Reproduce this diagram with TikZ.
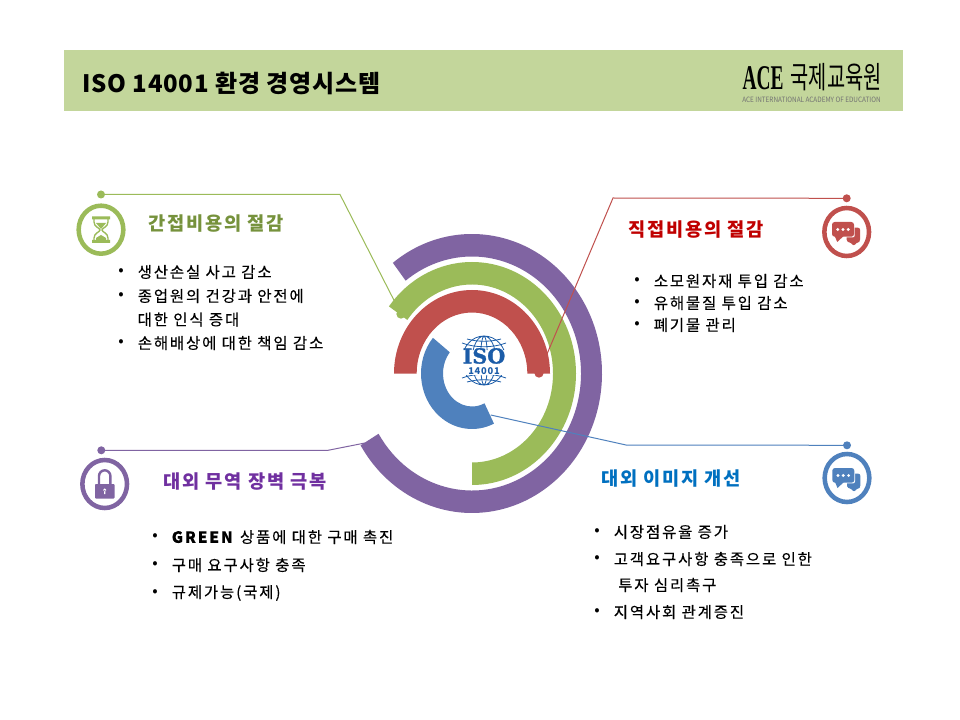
\documentclass[tikz,border=0pt]{standalone}
\usepackage{fontspec}
\setmainfont{Noto Sans CJK KR}
\newfontfamily\bodyfont[LetterSpace=12,FakeBold=0.25]{Noto Sans CJK KR}
\newfontfamily\headfont[LetterSpace=10]{Noto Sans CJK KR}
\newfontfamily\titlefont[LetterSpace=3.3]{Noto Sans CJK KR}
\newfontfamily\isofont[FakeBold=1.2]{DejaVu Serif}
\newfontfamily\acefont{Liberation Serif}
\usetikzlibrary{calc,shapes.geometric}
\definecolor{headbg}{HTML}{C3D69B}
\definecolor{ringgreen}{HTML}{9BBB59}
\definecolor{ringred}{HTML}{C0504D}
\definecolor{ringpurple}{HTML}{8064A2}
\definecolor{ringblue}{HTML}{4F81BD}
\definecolor{titlegreen}{HTML}{76923C}
\definecolor{titlered}{HTML}{C00000}
\definecolor{titlepurple}{HTML}{7030A0}
\definecolor{titleblue}{HTML}{0070C0}
\definecolor{isoblue}{HTML}{1B5CA8}
\tikzset{
  bodytext/.style={anchor=west,inner sep=0pt,font=\bodyfont\fontsize{11.6pt}{12pt}\selectfont,text=black},
  headtext/.style={inner sep=0pt,font=\headfont\fontsize{14pt}{15pt}\selectfont\bfseries},
  dot/.style={circle,fill=#1,inner sep=0pt,minimum size=6pt},
  badge/.style={ellipse,draw=#1,line width=3.4pt,inner sep=0pt,minimum width=33.5pt,minimum height=36pt},
  leader/.style={draw=#1,line width=0.75pt},
}
% one ring piece: colour, start, end, outer rx, outer ry, inner rx, inner ry
\newcommand{\ringpart}[7]{
\fill[#1] (472,373.5) ++(#2:#4 and #5) arc[start angle=#2,end angle=#3,x radius=#4,y radius=#5]
  -- ($(472,373.5)+(#3:#6 and #7)$) arc[start angle=#3,end angle=#2,x radius=#6,y radius=#7] -- cycle;
}
\newcommand{\bitem}[4]{
\node[inner sep=0pt,font=\fontsize{12pt}{12pt}\selectfont] (#1b) at (#2,#3) {•};
\node[bodytext] (#1) at ([xshift=12.4pt]#1b.center) {#4};
}
\newcommand{\chaticon}[3]{
\begin{scope}[shift={(#2,#3)}]
\fill[#1,rounded corners=1.5pt] (0,-4.3) -- (13.3,-4.3) -- (13.3,9.7) -- (11,9.7) -- (7,14) -- (3,9.7) -- (0,9.7) -- cycle;
\fill[white,rounded corners=1.5pt] (-15.2,-10.5) rectangle (8,5.4);
\fill[#1,rounded corners=2pt] (-14.7,-10) rectangle (7.3,4.7);
\fill[#1] (-12,4) -- (-9.5,10) -- (-3,4) -- cycle;
\fill[white] (-9,-2.5) circle(1.6) (-3.7,-2.5) circle(1.6) (1.6,-2.5) circle(1.6);
\end{scope}
}
\begin{document}
\begin{tikzpicture}[x=0.75pt,y=-0.75pt]
\useasboundingbox (0,0) rectangle (960,720);
\fill[white] (0,0) rectangle (960,720);
% header
\fill[headbg] (64,50) rectangle (903,111);
\node[anchor=west,inner sep=0pt,font=\titlefont\fontsize{18pt}{19pt}\selectfont\bfseries] (title) at (82,83) {ISO 14001 환경 경영시스템};
\node[inner sep=0pt,font=\acefont\fontsize{26pt}{26pt}\selectfont\bfseries] (ace) at (763,78.5) {\scalebox{0.56}[1]{ACE}};
\node[anchor=west,inner sep=0pt,font=\fontsize{19pt}{20pt}\selectfont] (acekr) at (790.5,77) {\scalebox{0.78}[1.2]{국제교육원}};
\node[inner sep=0pt,text=black!55,font=\fontsize{5pt}{5pt}\selectfont] (aceen) at (811.5,99.5) {\scalebox{0.96}[1.1]{ACE INTERNATIONAL ACADEMY OF EDUCATION}};
% anchor points of the lines
\coordinate (gbend) at (340,194.5);
\coordinate (gend) at (401,314);
\coordinate (rbend) at (613,198);
\coordinate (rend) at (539,373);
\coordinate (bbend) at (626,445);
\coordinate (bend) at (490.7,415);
\coordinate (pbend) at (328,450.3);
\coordinate (pend) at (365,443);
% outer ring
\ringpart{ringpurple}{-127.5}{149}{130}{139.5}{109}{117}
% green
\node[dot=ringgreen] (gdot) at (101,194.5) {};
\draw[leader=ringgreen] (gdot.center) -- (gbend) -- (gend);
\node[dot=ringgreen,minimum size=7pt] (gtip) at (gend) {};
\ringpart{ringgreen}{90}{-143}{104}{111.5}{81}{89}
% red
\node[dot=ringred] (rdot) at (846.7,198.3) {};
\draw[leader=ringred] (rdot.center) -- (rbend) -- (rend);
\node[dot=ringred,minimum size=7pt] (rtip) at (rend) {};
\ringpart{ringred}{180}{360}{78}{83.5}{55.3}{61}
% blue
\ringpart{ringblue}{220}{64.5}{51}{55.5}{29}{33}
\node[dot=ringblue] (bdot) at (847,445.3) {};
\draw[leader=ringblue] (bdot.center) -- (bbend) -- (bend);
% purple line
\node[dot=ringpurple] (pdot) at (101.3,450.3) {};
\draw[leader=ringpurple] (pdot.center) -- (pbend) -- (pend);
% logo
\begin{scope}
\clip (455,335) rectangle (513,350) (455,375) rectangle (513,387);
\draw[isoblue,line width=0.6pt] (484,360.5) ellipse (22 and 24.5) ellipse (12 and 24.5) ellipse (3.5 and 24.5);
\draw[isoblue,line width=0.6pt] (462,343) .. controls (475,348) and (493,348) .. (506,343);
\draw[isoblue,line width=0.6pt] (467,339) .. controls (478,342) and (490,342) .. (501,339);
\draw[isoblue,line width=0.6pt] (462,378) .. controls (475,373) and (493,373) .. (506,378);
\draw[isoblue,line width=0.6pt] (467,382) .. controls (478,379) and (490,379) .. (501,382);
\end{scope}
\node[inner sep=0pt,text=isoblue,text height=9pt,text depth=0pt,font=\isofont\fontsize{15.5pt}{16pt}\selectfont\bfseries] (isotxt) at (484,357.5) {ISO};
\node[inner sep=0pt,text=isoblue,text height=4.6pt,text depth=0pt,font=\fontsize{7pt}{7pt}\selectfont\bfseries\addfontfeature{LetterSpace=8}] (isonum) at (484,371.5) {14001};
% top left
\node[badge=ringgreen] (gbadge) at (101,229.7) {};
\fill[ringgreen] (92,216.5) rectangle (110,219.5) (92,240) rectangle (110,243);
\draw[ringgreen,line width=1pt] (94,219) -- (94,222) .. controls (94,227) and (100,228) .. (100,230) .. controls (100,232) and (94,233) .. (94,238) -- (94,241) -- (108,241) -- (108,238) .. controls (108,233) and (102,232) .. (102,230) .. controls (102,228) and (108,227) .. (108,222) -- (108,219);
\fill[ringgreen] (96,223) -- (106,223) -- (101,229) -- cycle (96,240) -- (96,238) -- (101,235) -- (106,238) -- (106,240) -- cycle;
\node[headtext,text=titlegreen] (ghead) at (216,224) {간접비용의 절감};
\bitem{ga}{121}{272}{생산손실 사고 감소}
\bitem{gb}{121}{296}{종업원의 건강과 안전에}
\node[bodytext] (gb2) at (137.4,319.5) {대한 인식 증대};
\bitem{gc}{121}{343}{손해배상에 대한 책임 감소}
% top right
\node[badge=ringred] (rbadge) at (846.7,232) {};
\chaticon{ringred}{846.7}{232}
\node[headtext,text=titlered] (rhead) at (696,230) {직접비용의 절감};
\bitem{ra}{637}{281}{소모원자재 투입 감소}
\bitem{rb}{637}{303}{유해물질 투입 감소}
\bitem{rc}{637}{325}{폐기물 관리}
% bottom left
\node[badge=ringpurple] (pbadge) at (104.7,484) {};
\fill[ringpurple,rounded corners=0.7pt] (95,484) rectangle (114.5,498.5);
\draw[ringpurple,line width=1.8pt] (99,484) -- (99,476) arc[start angle=180,end angle=360,radius=5.7] -- (110.4,484);
\fill[white] (104.7,490) circle(1.6) (104,490) rectangle (105.4,494);
\node[headtext,text=titlepurple] (phead) at (245,482) {대외 무역 장벽 극복};
\bitem{pa}{155}{537}{\textbf{GREEN} 상품에 대한 구매 촉진}
\bitem{pb}{155}{565}{구매 요구사항 충족}
\bitem{pc}{155}{593}{규제가능(국제)}
% bottom right
\node[badge=ringblue] (bbadge) at (847,478) {};
\chaticon{ringblue}{847}{478}
\node[headtext,text=titleblue] (bhead) at (671,479) {대외 이미지 개선};
\bitem{ba}{597}{532}{시장점유율 증가}
\bitem{bb}{597}{559}{고객요구사항 충족으로 인한}
\node[bodytext] (bb2) at (618,585) {투자 심리촉구};
\bitem{bc}{597}{612}{지역사회 관계증진}
\end{tikzpicture}
\end{document}
